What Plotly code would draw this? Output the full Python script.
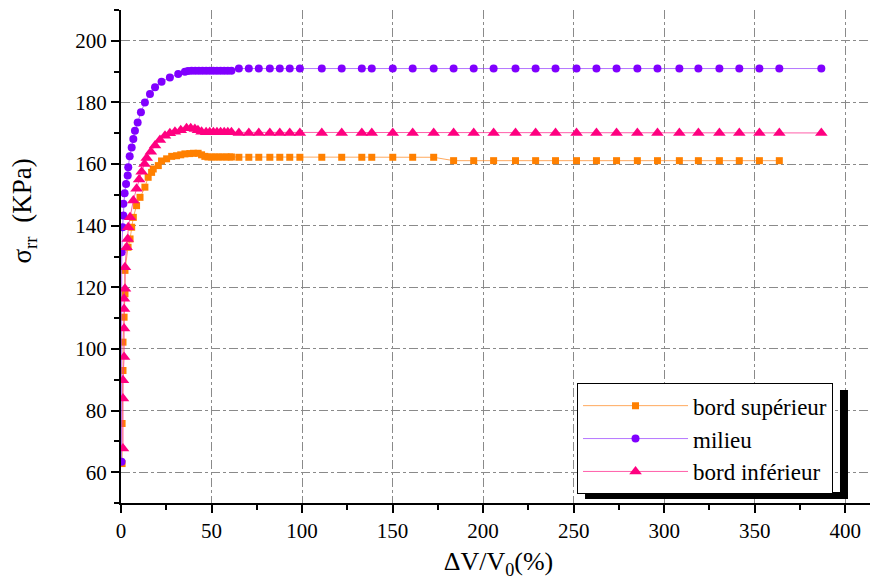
import plotly.graph_objects as go

# ---- data ----
sup_x = [0.6, 0.6, 1.1, 1.1, 1.7, 2.2, 2.2, 3.9, 5.0, 5.9, 6.8, 8.6, 10.5, 13.2, 15.0,
         16.9, 17.8, 20.6, 22.4, 25.2, 28.0, 30.7, 33.0, 35.3, 38.0, 40.0, 42.6, 44.5,
         46.3, 48.0, 50.0, 52.0, 54.0, 56.0, 58.0, 60.0, 61.0,
         65.1, 70.6, 76.1, 82.2, 87.7, 93.2, 98.8, 110.9, 121.9, 133.0, 138.5,
         150.1, 161.1, 172.7, 183.7, 194.8, 205.8, 217.9, 229.0, 240.0, 251.6,
         262.6, 273.7, 285.2, 296.3, 308.4, 318.9, 330.5, 341.5, 352.6, 363.6]
sup_y = [62.8, 75.8, 93.0, 102.2, 110.3, 117.9, 125.5, 133.0, 135.7, 139.5, 142.7, 146.5,
         149.2, 152.5, 155.7, 157.3, 158.4, 159.5, 161.0, 161.7, 162.5, 162.7, 163.0,
         163.3, 163.4, 163.5, 163.5, 163.0, 162.5, 162.3, 162.3, 162.3, 162.3, 162.3,
         162.3, 162.3, 162.3,
         162.2, 162.2, 162.2, 162.2, 162.2, 162.2, 162.2, 162.2, 162.2, 162.2, 162.2,
         162.2, 162.2, 162.2, 161.1, 161.1, 161.1, 161.1, 161.1, 161.1, 161.1, 161.1,
         161.1, 161.1, 161.1, 161.1, 161.1, 161.1, 161.1, 161.1, 161.1, 161.1]

mil_x = [0.3, 0.4, 0.9, 1.3, 1.3, 2.0, 2.8, 3.7, 4.0, 4.8, 5.9, 6.8, 7.7, 9.2, 11.0,
         13.2, 16.0, 18.8, 22.4, 27.0, 31.6, 35.3, 37.0, 39.0, 41.0, 43.0, 45.0, 47.0,
         49.0, 51.0, 53.0, 55.0, 57.0, 59.0, 61.0,
         65.1, 70.6, 76.1, 82.2, 87.7, 93.2, 98.8, 110.9, 121.9, 133.0, 138.5,
         150.1, 161.1, 172.7, 183.7, 194.8, 205.8, 217.9, 229.0, 240.0, 251.6,
         262.6, 273.7, 285.2, 296.3, 308.4, 318.9, 330.5, 341.5, 352.6, 363.6, 386.8]
mil_y = [63.4, 131.4, 139.5, 143.3, 147.1, 150.5, 153.5, 156.3, 159.0, 162.5, 165.4,
         168.1, 170.8, 173.5, 176.8, 180.0, 182.7, 184.9, 186.7, 188.1, 189.2, 190.0,
         190.2, 190.3, 190.3, 190.3, 190.3, 190.3, 190.3, 190.3, 190.3, 190.3, 190.3,
         190.3, 190.3,
         191.0, 191.0, 191.0, 191.0, 191.0, 191.0, 191.0, 191.0, 191.0, 191.0, 191.0,
         191.0, 191.0, 191.0, 191.0, 191.0, 191.0, 191.0, 191.0, 191.0, 191.0, 191.0,
         191.0, 191.0, 191.0, 191.0, 191.0, 191.0, 191.0, 191.0, 191.0, 191.0]

inf_x = [1.1, 1.1, 1.1, 1.7, 1.7, 1.7, 1.7, 2.2, 2.2, 3.1, 3.7, 4.0, 5.0, 6.8, 8.6,
         10.0, 11.4, 13.0, 14.2, 16.5, 18.8, 21.5, 24.3, 27.0, 29.8, 33.0, 36.2, 38.5,
         40.8, 42.5, 44.5, 47.0, 49.0, 51.0, 53.0, 55.0, 57.0, 59.0, 61.0,
         65.1, 70.6, 76.1, 82.2, 87.7, 93.2, 98.8, 110.9, 121.9, 133.0, 138.5,
         150.1, 161.1, 172.7, 183.7, 194.8, 205.8, 217.9, 229.0, 240.0, 251.6,
         262.6, 273.7, 285.2, 296.3, 308.4, 318.9, 330.5, 341.5, 352.6, 363.6, 386.8]
inf_y = [67.7, 83.9, 89.8, 97.4, 106.6, 113.0, 116.3, 119.5, 126.5, 133.0, 135.7,
         139.5, 142.7, 148.2, 152.0, 155.0, 157.5, 160.0, 162.0, 164.0, 166.0, 167.8,
         169.2, 170.0, 170.5, 171.0, 171.6, 171.6, 171.4, 171.0, 170.5, 170.3, 170.3,
         170.3, 170.3, 170.3, 170.3, 170.3, 170.3,
         170.1, 170.1, 170.1, 170.1, 170.1, 170.1, 170.1, 170.1, 170.1, 170.1, 170.1,
         170.1, 170.1, 170.1, 170.1, 170.1, 170.1, 170.1, 170.1, 170.1, 170.1, 170.1,
         170.1, 170.1, 170.1, 170.1, 170.1, 170.1, 170.1, 170.1, 170.1, 170.1]

names = ["bord supérieur", "milieu", "bord inférieur"]
x_ticks = [0, 50, 100, 150, 200, 250, 300, 350, 400]
y_ticks = [60, 80, 100, 120, 140, 160, 180, 200]

FONT = "Liberation Serif, Times New Roman, serif"

fig = go.Figure()
fig.add_trace(go.Scatter(
    x=sup_x, y=sup_y, name=names[0], mode="lines+markers",
    line=dict(color="rgba(255,140,40,0.75)", width=1),
    marker=dict(symbol="square", size=7, color="#FF8000")))
fig.add_trace(go.Scatter(
    x=mil_x, y=mil_y, name=names[1], mode="lines+markers",
    line=dict(color="rgba(150,60,255,0.7)", width=1),
    marker=dict(symbol="circle", size=8, color="#8000FF")))
fig.add_trace(go.Scatter(
    x=inf_x, y=inf_y, name=names[2], mode="lines+markers",
    line=dict(color="rgba(255,40,140,0.75)", width=1),
    marker=dict(symbol="triangle-up", size=11, color="#FF0080")))

axis_common = dict(
    showline=True, linecolor="black", linewidth=2, mirror=False,
    ticks="outside", ticklen=8, tickwidth=2, tickcolor="black",
    showgrid=True, gridcolor="#8a8a8a", gridwidth=1, griddash="dashdot",
    zeroline=False,
    tickfont=dict(family=FONT, size=21, color="black"),
)

fig.update_xaxes(range=[0, 417], tickvals=x_ticks,
                 minor=dict(dtick=25, tick0=25, ticks="outside", ticklen=5,
                            tickwidth=2, tickcolor="black", showgrid=False),
                 title=dict(text="ΔV/V<sub>0</sub>(%)",
                            font=dict(family=FONT, size=26, color="black"),
                            standoff=10),
                 **axis_common)
fig.update_yaxes(range=[50, 210], tickvals=y_ticks,
                 minor=dict(dtick=10, tick0=50, ticks="outside", ticklen=5,
                            tickwidth=2, tickcolor="black", showgrid=False),
                 **axis_common)

fig.add_annotation(
    text="σ<sub>rr</sub>  (KPa)", textangle=-90, showarrow=False,
    xref="paper", yref="paper", x=-0.128, y=0.592,
    xanchor="center", yanchor="middle",
    font=dict(family=FONT, size=27, color="black"))

# legend drop shadow (thick black bars right and below the legend box)
fig.add_shape(type="rect", xref="paper", yref="paper",
              x0=0.9523, x1=0.9629, y0=0.0081, y1=0.229,
              fillcolor="black", line=dict(width=0), layer="above")
fig.add_shape(type="rect", xref="paper", yref="paper",
              x0=0.6146, x1=0.9629, y0=0.0081, y1=0.0223,
              fillcolor="black", line=dict(width=0), layer="above")

fig.update_layout(
    width=870, height=579,
    margin=dict(l=113, r=2, t=2, b=84),
    font=dict(family=FONT, color="black"),
    paper_bgcolor="white", plot_bgcolor="white",
    showlegend=True,
    legend=dict(x=0.604, y=0.243, xanchor="left", yanchor="top",
                bgcolor="white", bordercolor="black", borderwidth=1,
                font=dict(family=FONT, size=23, color="black"),
                itemwidth=105, tracegroupgap=0),
)

fig.write_html("out.html")
